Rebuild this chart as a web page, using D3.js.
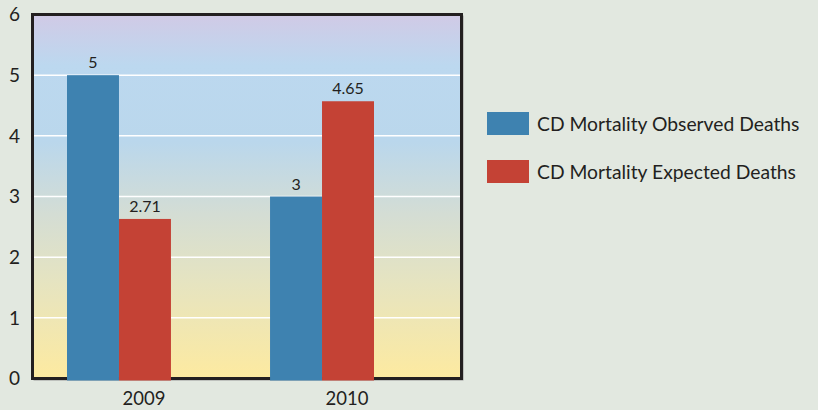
<!DOCTYPE html>
<html lang="en">
<head>
<meta charset="utf-8">
<script src="https://cdn.jsdelivr.net/npm/d3@7"></script>
<style>
  body { margin: 0; background: #e2e8e0; }
  svg text { font-family: Lato, "Noto Sans", sans-serif; fill: #231f20; }
</style>
</head>
<body>
<svg id="chart" width="818" height="410"></svg>
<script>
// data
var years = ["2009", "2010"];
var seriesNames = ["CD Mortality Observed Deaths", "CD Mortality Expected Deaths"];
var observed = [5, 3];
var expected = [2.63, 4.57];          // bar heights as drawn
var observedLabels = ["5", "3"];
var expectedLabels = ["2.71", "4.65"]; // printed labels
var yTicks = [0, 1, 2, 3, 4, 5, 6];
var colors = ["#3e82b0", "#c44235"];

var svg = d3.select("#chart");

// plot area (don't call these top/left, window.top is read-only)
var plotL = 32.5, plotR = 461.5, plotT = 14.5, plotB = 378.5;

var y = d3.scaleLinear().domain([0, 6]).range([plotB, plotT]);

var x0 = d3.scaleBand()
    .domain(years)
    .range([67, 374])
    .paddingInner(0.488)
    .paddingOuter(0);

var x1 = d3.scaleBand()
    .domain([0, 1])
    .range([0, x0.bandwidth()]);

// background gradient
var defs = svg.append("defs");
var grad = defs.append("linearGradient")
    .attr("id", "bg").attr("x1", 0).attr("y1", 0).attr("x2", 0).attr("y2", 1);
[[0, "#d1cae6"], [0.14, "#bcd8ef"], [0.35, "#bad7ec"], [0.55, "#d4ddd4"], [0.74, "#e6e4c0"], [1, "#fdeaa0"]]
    .forEach(function (s) {
        grad.append("stop").attr("offset", s[0]).attr("stop-color", s[1]);
    });

// drop shadow on the right edge
svg.append("rect")
    .attr("x", plotL + 1).attr("y", plotT + 1)
    .attr("width", plotR - plotL + 1).attr("height", plotB - plotT + 1)
    .attr("fill", "#9a9a9a");

svg.append("rect")
    .attr("x", plotL).attr("y", plotT)
    .attr("width", plotR - plotL).attr("height", plotB - plotT)
    .attr("fill", "url(#bg)");

// gridlines
svg.append("g").selectAll("line")
    .data(yTicks.filter(function (d) { return d > 0 && d < 6; }))
    .enter().append("line")
    .attr("x1", plotL).attr("x2", plotR)
    .attr("y1", function (d) { return y(d); })
    .attr("y2", function (d) { return y(d); })
    .attr("stroke", "#ffffff")
    .attr("stroke-width", 1.5);

// frame
svg.append("rect")
    .attr("x", plotL).attr("y", plotT)
    .attr("width", plotR - plotL).attr("height", plotB - plotT)
    .attr("fill", "none")
    .attr("stroke", "#231f20")
    .attr("stroke-width", 3);

// bars
var rows = years.map(function (yr, i) {
    return {
        year: yr,
        vals: [
            { s: 0, v: observed[i], label: observedLabels[i] },
            { s: 1, v: expected[i], label: expectedLabels[i] }
        ]
    };
});

var groups = svg.append("g").selectAll("g")
    .data(rows)
    .enter().append("g")
    .attr("transform", function (d) { return "translate(" + x0(d.year) + ",0)"; });

groups.selectAll("rect")
    .data(function (d) { return d.vals; })
    .enter().append("rect")
    .attr("x", function (d) { return x1(d.s); })
    .attr("y", function (d) { return y(d.v); })
    .attr("width", x1.bandwidth())
    .attr("height", function (d) { return y(0) - y(d.v) + 2; })
    .attr("fill", function (d) { return colors[d.s]; });

groups.selectAll("text")
    .data(function (d) { return d.vals; })
    .enter().append("text")
    .attr("x", function (d) { return x1(d.s) + x1.bandwidth() / 2; })
    .attr("y", function (d) { return y(d.v) - 7; })
    .attr("text-anchor", "middle")
    .attr("font-size", 16)
    .text(function (d) { return d.label; });

// y axis labels
svg.append("g").selectAll("text")
    .data(yTicks)
    .enter().append("text")
    .attr("x", 20)
    .attr("y", function (d) { return y(d); })
    .attr("dy", "0.36em")
    .attr("text-anchor", "end")
    .attr("font-size", 19)
    .text(function (d) { return d; });

// x axis labels (sit a little right of the bar pairs)
svg.append("g").selectAll("text")
    .data(years)
    .enter().append("text")
    .attr("x", function (d) { return x0(d) + x0.bandwidth() / 2 + 25; })
    .attr("y", 405)
    .attr("text-anchor", "middle")
    .attr("font-size", 18.5)
    .text(function (d) { return d; });

// legend
var legend = svg.append("g").selectAll("g")
    .data(seriesNames)
    .enter().append("g")
    .attr("transform", function (d, i) { return "translate(487," + (112 + i * 48) + ")"; });

legend.append("rect")
    .attr("width", 42).attr("height", 23)
    .attr("fill", function (d, i) { return colors[i]; });

legend.append("text")
    .attr("x", 50).attr("y", 19)
    .attr("font-size", 19.3)
    .text(function (d) { return d; });
</script>
</body>
</html>
